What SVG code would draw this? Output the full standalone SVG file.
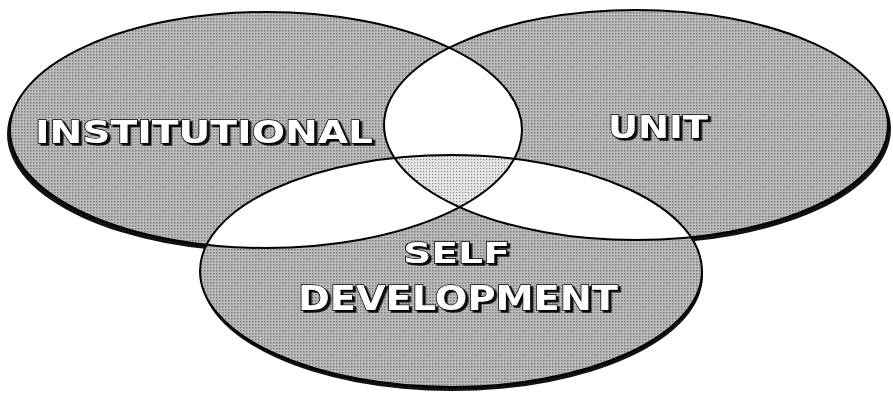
<svg xmlns="http://www.w3.org/2000/svg" width="893" height="397" viewBox="0 0 893 397">
<style>
.sh{fill:#111}
.ol{fill:none;stroke:#000;stroke-width:2}
.lbl{font-family:"DejaVu Sans",sans-serif;font-weight:bold;fill:#fff;stroke:#000;stroke-width:1.3;paint-order:stroke;filter:url(#tsh)}
</style>
<defs>
<filter id="tsh" x="-10%" y="-30%" width="120%" height="160%">
<feDropShadow dx="2.5" dy="2" stdDeviation="0.3" flood-color="#111" flood-opacity="1"/>
</filter>
<pattern id="dots" width="3" height="3" patternUnits="userSpaceOnUse">
<rect width="3" height="3" fill="#bdbdbd"/>
<rect width="1.5" height="1.5" fill="#7a7a7a"/>
</pattern>
<pattern id="dots2" width="3" height="3" patternUnits="userSpaceOnUse">
<rect width="3" height="3" fill="#e6e6e6"/>
<rect width="1.2" height="1.2" fill="#8a8a8a"/>
</pattern>
<clipPath id="cA"><ellipse cx="266" cy="130" rx="256" ry="118"/></clipPath>
<clipPath id="cB"><ellipse cx="636" cy="125" rx="252" ry="115"/></clipPath>
</defs>
<rect width="893" height="397" fill="#fff"/>
<g id="shadows">
<ellipse class="sh" cx="263" cy="134" rx="256" ry="118"/>
<ellipse class="sh" cx="639" cy="129" rx="252" ry="115"/>
<ellipse class="sh" cx="452" cy="275" rx="251" ry="116"/>
</g>
<g id="fills">
<path fill="#fff" d="M10,130 a256,118 0 1,0 512,0 a256,118 0 1,0 -512,0 Z M384,125 a252,115 0 1,0 504,0 a252,115 0 1,0 -504,0 Z M200,271 a251,116 0 1,0 502,0 a251,116 0 1,0 -502,0 Z"/>
<path fill="url(#dots)" fill-rule="evenodd" d="M10,130 a256,118 0 1,0 512,0 a256,118 0 1,0 -512,0 Z M384,125 a252,115 0 1,0 504,0 a252,115 0 1,0 -504,0 Z M200,271 a251,116 0 1,0 502,0 a251,116 0 1,0 -502,0 Z"/>
<g clip-path="url(#cA)"><g clip-path="url(#cB)"><ellipse cx="451" cy="271" rx="251" ry="116" fill="url(#dots2)"/></g></g>
</g>
<g id="institutional">
<ellipse class="ol" cx="266" cy="130" rx="256" ry="118"/>
<text class="lbl" x="35" y="143" font-size="32" textLength="338" lengthAdjust="spacingAndGlyphs">INSTITUTIONAL</text>
</g>
<g id="unit">
<ellipse class="ol" cx="636" cy="125" rx="252" ry="115"/>
<text class="lbl" x="608" y="138" font-size="32" textLength="100" lengthAdjust="spacingAndGlyphs">UNIT</text>
</g>
<g id="self-development">
<ellipse class="ol" cx="451" cy="271" rx="251" ry="116"/>
<text class="lbl" x="403" y="263" font-size="29" textLength="107" lengthAdjust="spacingAndGlyphs">SELF</text>
<text class="lbl" x="298" y="310" font-size="34" textLength="320" lengthAdjust="spacingAndGlyphs">DEVELOPMENT</text>
</g>
<g id="connectors"/>
</svg>
